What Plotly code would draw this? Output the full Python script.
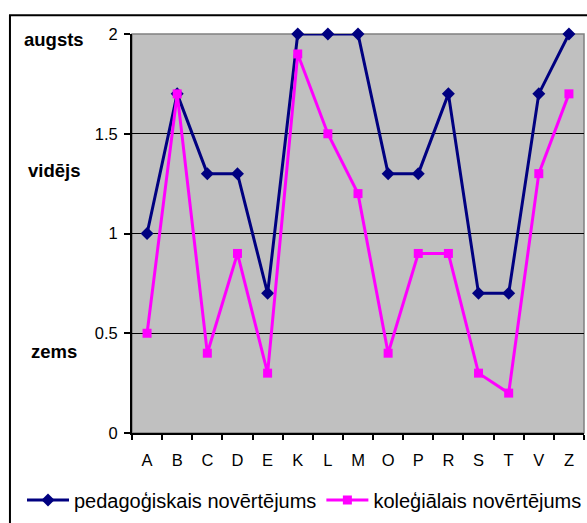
import plotly.graph_objects as go

# Students and their two assessment scores (0 = low, 2 = high)
students = ["A", "B", "C", "D", "E", "K", "L", "M", "O", "P", "R", "S", "T", "V", "Z"]
pedagogical = [1.0, 1.7, 1.3, 1.3, 0.7, 2.0, 2.0, 2.0, 1.3, 1.3, 1.7, 0.7, 0.7, 1.7, 2.0]
peer = [0.5, 1.7, 0.4, 0.9, 0.3, 1.9, 1.5, 1.2, 0.4, 0.9, 0.9, 0.3, 0.2, 1.3, 1.7]

y_ticks = [0, 0.5, 1, 1.5, 2]
y_tick_text = ["0", "0.5", "1", "1.5", "2"]

# Verbal level labels shown to the left of the value axis
level_labels = ["augsts", "vidējs", "zems"]
level_positions = [1.97, 1.315, 0.41]

FONT = "Arial, 'Liberation Sans', sans-serif"
NAVY = "#000080"
MAGENTA = "#FF00FF"

fig = go.Figure()
fig.add_trace(go.Scatter(
    x=students, y=pedagogical, mode="lines+markers",
    name="pedagoģiskais novērtējums",
    line=dict(color=NAVY, width=3),
    marker=dict(symbol="diamond", size=10, color=NAVY),
    cliponaxis=False,
))
fig.add_trace(go.Scatter(
    x=students, y=peer, mode="lines+markers",
    name="koleģiālais novērtējums",
    line=dict(color=MAGENTA, width=3),
    marker=dict(symbol="square", size=9, color=MAGENTA),
    cliponaxis=False,
))

for text, yv in zip(level_labels, level_positions):
    fig.add_annotation(
        x=-0.173, xref="paper", y=yv, yref="y",
        text=f"<b>{text}</b>", showarrow=False,
        xanchor="center", yanchor="middle",
        font=dict(family=FONT, size=18.5, color="black"),
    )

# Grey frame of the plotting area (above gridlines, below data)
fig.add_shape(type="rect", xref="paper", yref="paper", x0=0, x1=1, y0=0, y1=1,
              line=dict(color="#808080", width=1.5), layer="between")
# Outer chart border (runs past the right and bottom edges)
fig.add_shape(type="rect", xref="paper", yref="paper",
              x0=-0.27, x1=1.15, y0=-0.3, y1=1.047,
              line=dict(color="black", width=2), layer="below")

fig.update_layout(
    width=587, height=523,
    margin=dict(l=132, r=3, t=34, b=90),
    paper_bgcolor="white",
    plot_bgcolor="#C0C0C0",
    font=dict(family=FONT, size=16.5, color="black"),
    showlegend=True,
    legend=dict(
        orientation="h", x=-0.238, xanchor="left", y=-0.168, yanchor="middle",
        font=dict(family=FONT, size=20, color="black"),
        bgcolor="rgba(0,0,0,0)", itemwidth=42, tracegroupgap=0,
    ),
    xaxis=dict(
        type="category", range=[-0.5, len(students) - 0.5],
        showgrid=False, showline=True, linecolor="black", linewidth=2,
        ticks="outside", tickson="boundaries", ticklen=5, tickcolor="black",
        tickwidth=1.5, tickfont=dict(family=FONT, size=16.5),
        ticklabelstandoff=11,
    ),
    yaxis=dict(
        range=[0, 2], tickvals=y_ticks, ticktext=y_tick_text,
        showgrid=True, gridcolor="black", gridwidth=1,
        showline=True, linecolor="black", linewidth=2,
        ticks="outside", ticklen=6, tickcolor="black", tickwidth=1.5,
        tickfont=dict(family=FONT, size=16.5), zeroline=False,
        ticklabelstandoff=3,
    ),
)

fig.write_html("out.html")
